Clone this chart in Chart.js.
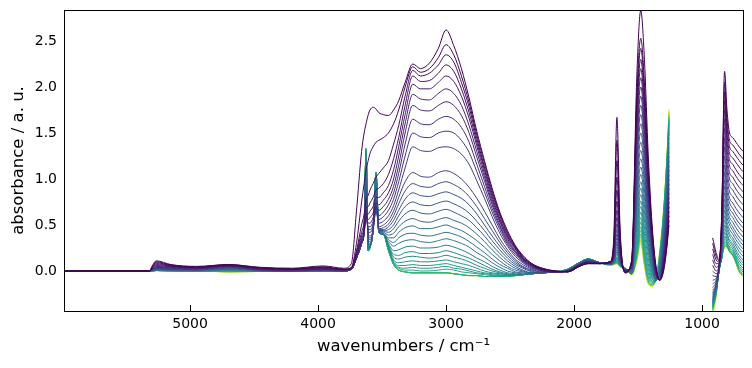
<!DOCTYPE html>
<html>
<head>
<meta charset="utf-8">
<script src="https://cdn.jsdelivr.net/npm/chart.js@4.4.1/dist/chart.umd.min.js"></script>
<style>
    html, body { margin: 0; padding: 0; background: #ffffff; }
</style>
</head>
<body>
<canvas id="spectra" width="752" height="368"></canvas>
<script>
// shared wavenumber axis (cm-1), 1100 marks the gap with no data
const wavenumbers = [5985, 5320, 5290, 5265, 5150, 4950, 4700, 4450, 4200, 3960, 3800,
    3740, 3700, 3660, 3640, 3625, 3608, 3594, 3570, 3547, 3525, 3490, 3450, 3410, 3370, 3320, 3260, 3200, 3130, 3060, 3000,
    2940, 2880, 2820, 2760, 2700, 2640, 2580, 2520, 2460, 2400, 2330, 2250, 2150,
    2050, 1960, 1890, 1800, 1720, 1690, 1665, 1640, 1600, 1550, 1510, 1479, 1450, 1420, 1390, 1360, 1330, 1300, 1275, 1258,
    1100,
    917, 890, 865, 845, 824, 805, 785, 760, 735, 710, 680];

// absorbance of each spectrum, first = earliest (purple), last = latest (yellow)
const spec00 = [0, 0, 0.07, 0.11, 0.07, 0.05, 0.07, 0.04, 0.03, 0.055, 0.03,
    0.08, 0.65, 1.3, 1.5, 1.6, 1.7, 1.75, 1.78, 1.76, 1.72, 1.7, 1.69, 1.75, 1.85, 2.05, 2.25, 2.2, 2.26, 2.42, 2.62,
    2.45, 2.2, 1.88, 1.52, 1.2, 0.9, 0.64, 0.44, 0.28, 0.17, 0.08, 0.03, 0.0,
    -0.01, 0.05, 0.08, 0.08, 0.1, 0.35, 1.67, 0.45, -0.02, 0.12, 2.1, 2.83, 2.3, 1.25, 0.5, 0.05, -0.1, 0.0, 0.25, 0.5,
    null,
    0.36, 0.2, 0.12, 0.7, 2.17, 1.75, 1.5, 1.45, 1.4, 1.35, 1.3];
const spec01 = [0, 0, 0.06, 0.1, 0.065, 0.045, 0.07, 0.035, 0.025, 0.045, 0.02,
    0.04, 0.3, 0.75, 0.95, 1.1, 1.2, 1.28, 1.35, 1.4, 1.42, 1.45, 1.5, 1.6, 1.75, 2.0, 2.22, 2.16, 2.2, 2.32, 2.46,
    2.35, 2.12, 1.83, 1.48, 1.17, 0.87, 0.62, 0.42, 0.27, 0.16, 0.08, 0.03, 0.0,
    -0.01, 0.05, 0.08, 0.08, 0.1, 0.3, 1.42, 0.39, -0.02, 0.11, 1.9, 2.53, 2.05, 1.12, 0.45, 0.04, -0.1, 0.02, 0.28, 0.55,
    null,
    0.3, 0.16, 0.11, 0.66, 2.05, 1.65, 1.42, 1.37, 1.32, 1.27, 1.22];
const spec02 = [0, 0, 0.05, 0.09, 0.06, 0.04, 0.065, 0.03, 0.02, 0.04, 0.02,
    0.03, 0.22, 0.5, 0.62, 0.78, 0.82, 0.88, 0.95, 1.02, 1.06, 1.12, 1.2, 1.38, 1.58, 1.9, 2.18, 2.12, 2.15, 2.24, 2.35,
    2.27, 2.05, 1.78, 1.44, 1.13, 0.84, 0.6, 0.4, 0.26, 0.15, 0.07, 0.02, 0.0,
    -0.01, 0.05, 0.08, 0.08, 0.1, 0.27, 1.2, 0.34, -0.01, 0.1, 1.82, 2.42, 1.95, 1.07, 0.42, 0.03, -0.1, 0.04, 0.31, 0.6,
    null,
    0.24, 0.12, 0.1, 0.63, 1.95, 1.57, 1.35, 1.3, 1.25, 1.2, 1.15];
const spec03 = [0, 0, 0.05, 0.08, 0.055, 0.04, 0.06, 0.03, 0.02, 0.035, 0.015,
    0.03, 0.2, 0.42, 0.52, 0.68, 0.7, 0.74, 0.8, 0.88, 0.9, 0.95, 1.05, 1.22, 1.45, 1.8, 2.12, 2.06, 2.07, 2.15, 2.24,
    2.17, 1.98, 1.72, 1.4, 1.1, 0.81, 0.57, 0.38, 0.25, 0.14, 0.07, 0.02, 0.0,
    -0.01, 0.05, 0.09, 0.08, 0.1, 0.24, 1.02, 0.3, -0.01, 0.09, 1.73, 2.3, 1.86, 1.02, 0.4, 0.02, -0.1, 0.06, 0.34, 0.65,
    null,
    0.18, 0.08, 0.09, 0.6, 1.85, 1.49, 1.28, 1.23, 1.18, 1.13, 1.08];
const spec04 = [0, 0, 0.04, 0.07, 0.05, 0.035, 0.06, 0.025, 0.015, 0.03, 0.015,
    0.03, 0.18, 0.38, 0.47, 0.62, 0.62, 0.65, 0.7, 0.8, 0.8, 0.85, 0.93, 1.1, 1.35, 1.7, 2.03, 1.98, 1.98, 2.05, 2.12,
    2.06, 1.9, 1.66, 1.36, 1.06, 0.78, 0.55, 0.37, 0.24, 0.13, 0.06, 0.02, -0.01,
    0.0, 0.06, 0.09, 0.08, 0.1, 0.22, 0.88, 0.27, -0.01, 0.08, 1.65, 2.2, 1.77, 0.97, 0.37, 0.01, -0.1, 0.08, 0.37, 0.7,
    null,
    0.12, 0.04, 0.09, 0.57, 1.75, 1.41, 1.21, 1.16, 1.1, 1.05, 1.0];
const spec05 = [0, 0, 0.04, 0.06, 0.045, 0.03, 0.055, 0.02, 0.015, 0.025, 0.01,
    0.03, 0.17, 0.35, 0.44, 0.6, 0.56, 0.58, 0.63, 0.74, 0.72, 0.77, 0.85, 1.0, 1.25, 1.6, 1.92, 1.87, 1.86, 1.93, 1.98,
    1.93, 1.8, 1.58, 1.3, 1.02, 0.75, 0.53, 0.35, 0.22, 0.13, 0.06, 0.01, -0.01,
    0.0, 0.06, 0.09, 0.08, 0.09, 0.2, 0.76, 0.24, 0.0, 0.07, 1.57, 2.1, 1.69, 0.92, 0.35, 0.0, -0.1, 0.1, 0.41, 0.75,
    null,
    0.06, 0.0, 0.08, 0.54, 1.65, 1.33, 1.14, 1.09, 1.03, 0.98, 0.93];
const spec06 = [0, 0, 0.03, 0.05, 0.04, 0.03, 0.055, 0.02, 0.01, 0.02, 0.01,
    0.02, 0.16, 0.33, 0.42, 0.6, 0.52, 0.52, 0.58, 0.7, 0.66, 0.7, 0.78, 0.92, 1.15, 1.5, 1.8, 1.75, 1.74, 1.8, 1.84,
    1.8, 1.69, 1.5, 1.24, 0.98, 0.72, 0.5, 0.33, 0.21, 0.12, 0.05, 0.01, -0.01,
    0.0, 0.06, 0.1, 0.085, 0.09, 0.18, 0.66, 0.21, 0.0, 0.06, 1.49, 2.0, 1.6, 0.87, 0.33, -0.01, -0.1, 0.12, 0.45, 0.8,
    null,
    0.0, -0.03, 0.07, 0.5, 1.55, 1.25, 1.07, 1.02, 0.96, 0.91, 0.86];
const spec07 = [0, 0, 0.03, 0.045, 0.035, 0.025, 0.05, 0.015, 0.01, 0.02, 0.01,
    0.02, 0.15, 0.32, 0.41, 0.62, 0.48, 0.48, 0.54, 0.68, 0.6, 0.64, 0.72, 0.85, 1.06, 1.38, 1.65, 1.6, 1.59, 1.65, 1.68,
    1.65, 1.56, 1.4, 1.16, 0.92, 0.68, 0.48, 0.31, 0.2, 0.11, 0.05, 0.01, -0.01,
    0.0, 0.06, 0.1, 0.085, 0.09, 0.17, 0.58, 0.19, 0.0, 0.05, 1.41, 1.9, 1.52, 0.83, 0.31, -0.02, -0.1, 0.14, 0.49, 0.85,
    null,
    -0.05, -0.06, 0.07, 0.47, 1.45, 1.17, 1.0, 0.95, 0.89, 0.84, 0.79];
const spec08 = [0, 0, 0.02, 0.04, 0.03, 0.02, 0.05, 0.015, 0.01, 0.015, 0.01,
    0.02, 0.15, 0.31, 0.4, 0.65, 0.45, 0.45, 0.5, 0.66, 0.56, 0.59, 0.66, 0.78, 0.97, 1.25, 1.5, 1.46, 1.45, 1.5, 1.52,
    1.5, 1.42, 1.29, 1.08, 0.86, 0.64, 0.45, 0.29, 0.18, 0.1, 0.04, 0.0, -0.01,
    0.0, 0.07, 0.1, 0.085, 0.09, 0.16, 0.51, 0.17, 0.0, 0.04, 1.33, 1.8, 1.44, 0.78, 0.29, -0.03, -0.09, 0.16, 0.53, 0.9,
    null,
    -0.1, -0.08, 0.06, 0.44, 1.35, 1.09, 0.93, 0.88, 0.82, 0.77, 0.72];
const spec09 = [0, 0, 0.02, 0.035, 0.025, 0.02, 0.045, 0.01, 0.005, 0.015, 0.005,
    0.02, 0.14, 0.3, 0.4, 0.68, 0.42, 0.42, 0.48, 0.64, 0.52, 0.54, 0.6, 0.71, 0.88, 1.12, 1.35, 1.31, 1.3, 1.34, 1.35,
    1.33, 1.27, 1.16, 0.98, 0.79, 0.59, 0.41, 0.27, 0.16, 0.09, 0.03, 0.0, -0.01,
    0.0, 0.07, 0.1, 0.085, 0.09, 0.15, 0.45, 0.16, 0.01, 0.04, 1.25, 1.7, 1.36, 0.74, 0.27, -0.04, -0.09, 0.18, 0.57, 0.95,
    null,
    -0.14, -0.1, 0.06, 0.41, 1.25, 1.01, 0.86, 0.81, 0.75, 0.7, 0.65];
const spec10 = [0, 0, 0.015, 0.03, 0.02, 0.015, 0.04, 0.01, 0, 0.01, 0,
    0.02, 0.14, 0.3, 0.42, 0.75, 0.4, 0.38, 0.45, 0.7, 0.48, 0.5, 0.55, 0.65, 0.8, 0.97, 1.07, 1.03, 1.02, 1.07, 1.09,
    1.06, 1.0, 0.91, 0.79, 0.65, 0.5, 0.35, 0.23, 0.13, 0.07, 0.02, -0.01, -0.01,
    0.0, 0.07, 0.11, 0.09, 0.085, 0.14, 0.4, 0.14, 0.01, 0.03, 1.17, 1.6, 1.28, 0.7, 0.25, -0.05, -0.08, 0.2, 0.61, 1.0,
    null,
    -0.18, -0.12, 0.05, 0.38, 1.15, 0.93, 0.79, 0.74, 0.68, 0.63, 0.58];
const spec11 = [0, 0, 0.015, 0.03, 0.02, 0.015, 0.04, 0.01, 0, 0.01, 0,
    0.02, 0.14, 0.3, 0.42, 0.8, 0.38, 0.36, 0.44, 0.74, 0.46, 0.47, 0.51, 0.6, 0.73, 0.87, 0.95, 0.92, 0.91, 0.95, 0.97,
    0.94, 0.89, 0.81, 0.7, 0.57, 0.44, 0.31, 0.2, 0.11, 0.05, 0.01, -0.01, -0.01,
    0.0, 0.07, 0.11, 0.09, 0.085, 0.13, 0.36, 0.13, 0.01, 0.02, 1.09, 1.5, 1.2, 0.65, 0.23, -0.05, -0.07, 0.23, 0.65, 1.05,
    null,
    -0.21, -0.14, 0.05, 0.35, 1.07, 0.86, 0.74, 0.68, 0.62, 0.57, 0.52];
const spec12 = [0, 0, 0.015, 0.025, 0.02, 0.015, 0.035, 0.01, 0, 0.01, 0,
    0.02, 0.14, 0.3, 0.43, 0.85, 0.36, 0.34, 0.44, 0.78, 0.45, 0.45, 0.48, 0.55, 0.66, 0.78, 0.85, 0.82, 0.81, 0.84, 0.86,
    0.83, 0.79, 0.72, 0.62, 0.5, 0.38, 0.27, 0.17, 0.09, 0.04, 0.0, -0.02, -0.01,
    0.0, 0.075, 0.11, 0.09, 0.08, 0.12, 0.32, 0.12, 0.01, 0.02, 1.01, 1.4, 1.12, 0.6, 0.2, -0.06, -0.06, 0.26, 0.69, 1.1,
    null,
    -0.24, -0.15, 0.04, 0.33, 0.99, 0.8, 0.68, 0.63, 0.57, 0.52, 0.47];
const spec13 = [0, 0, 0.01, 0.025, 0.015, 0.01, 0.035, 0.01, 0, 0.01, 0,
    0.02, 0.14, 0.3, 0.44, 0.9, 0.34, 0.32, 0.44, 0.82, 0.44, 0.44, 0.45, 0.5, 0.6, 0.7, 0.75, 0.72, 0.71, 0.74, 0.76,
    0.73, 0.69, 0.63, 0.54, 0.44, 0.33, 0.23, 0.14, 0.07, 0.03, -0.01, -0.02, -0.01,
    0.0, 0.075, 0.115, 0.09, 0.08, 0.12, 0.29, 0.11, 0.015, 0.01, 0.93, 1.31, 1.04, 0.55, 0.17, -0.07, -0.05, 0.29, 0.73, 1.15,
    null,
    -0.26, -0.16, 0.04, 0.31, 0.92, 0.74, 0.63, 0.58, 0.52, 0.47, 0.42];
const spec14 = [0, 0, 0.01, 0.02, 0.015, 0.01, 0.03, 0.005, 0, 0.005, 0,
    0.02, 0.14, 0.3, 0.45, 0.95, 0.32, 0.3, 0.44, 0.86, 0.43, 0.43, 0.42, 0.46, 0.54, 0.62, 0.66, 0.63, 0.62, 0.65, 0.67,
    0.64, 0.6, 0.55, 0.47, 0.38, 0.28, 0.19, 0.11, 0.05, 0.01, -0.02, -0.02, -0.01,
    0.005, 0.08, 0.115, 0.09, 0.08, 0.11, 0.26, 0.1, 0.015, 0.0, 0.86, 1.22, 0.96, 0.5, 0.14, -0.08, -0.03, 0.32, 0.77, 1.2,
    null,
    -0.28, -0.17, 0.03, 0.29, 0.85, 0.68, 0.58, 0.53, 0.47, 0.42, 0.37];
const spec15 = [0, 0, 0.01, 0.02, 0.015, 0.01, 0.03, 0.005, 0, 0.005, 0,
    0.02, 0.14, 0.3, 0.46, 1.0, 0.3, 0.29, 0.44, 0.9, 0.42, 0.42, 0.39, 0.41, 0.48, 0.54, 0.57, 0.54, 0.53, 0.56, 0.58,
    0.55, 0.52, 0.47, 0.4, 0.32, 0.23, 0.15, 0.08, 0.03, 0.0, -0.02, -0.02, -0.01,
    0.005, 0.08, 0.12, 0.09, 0.08, 0.11, 0.23, 0.09, 0.02, 0.0, 0.79, 1.13, 0.88, 0.45, 0.11, -0.09, -0.02, 0.35, 0.81, 1.25,
    null,
    -0.3, -0.18, 0.03, 0.27, 0.78, 0.63, 0.54, 0.48, 0.42, 0.37, 0.32];
const spec16 = [0, 0, 0.01, 0.02, 0.01, 0.01, 0.025, 0.005, 0, 0.005, 0,
    0.02, 0.14, 0.3, 0.46, 1.05, 0.28, 0.28, 0.45, 0.93, 0.42, 0.41, 0.36, 0.36, 0.42, 0.47, 0.49, 0.46, 0.46, 0.48, 0.5,
    0.47, 0.44, 0.39, 0.33, 0.26, 0.18, 0.11, 0.05, 0.01, -0.01, -0.02, -0.02, -0.01,
    0.005, 0.08, 0.12, 0.09, 0.075, 0.1, 0.21, 0.09, 0.02, -0.01, 0.72, 1.05, 0.8, 0.4, 0.08, -0.09, 0.0, 0.38, 0.85, 1.3,
    null,
    -0.31, -0.19, 0.03, 0.25, 0.72, 0.58, 0.5, 0.44, 0.38, 0.33, 0.28];
const spec17 = [0, 0, 0.01, 0.015, 0.01, 0.005, 0.02, 0.005, 0, 0.005, 0,
    0.02, 0.14, 0.3, 0.47, 1.1, 0.27, 0.27, 0.45, 0.96, 0.42, 0.4, 0.34, 0.31, 0.36, 0.4, 0.41, 0.39, 0.38, 0.4, 0.42,
    0.4, 0.37, 0.32, 0.26, 0.2, 0.13, 0.07, 0.03, -0.01, -0.02, -0.03, -0.02, -0.01,
    0.01, 0.085, 0.12, 0.09, 0.075, 0.1, 0.19, 0.08, 0.02, -0.01, 0.65, 0.97, 0.72, 0.35, 0.05, -0.1, 0.02, 0.41, 0.89, 1.35,
    null,
    -0.32, -0.2, 0.02, 0.23, 0.66, 0.53, 0.45, 0.4, 0.34, 0.29, 0.24];
const spec18 = [0, 0, 0.005, 0.015, 0.01, 0.005, 0.02, 0, 0, 0, 0,
    0.02, 0.14, 0.3, 0.47, 1.15, 0.26, 0.27, 0.45, 0.99, 0.42, 0.4, 0.32, 0.27, 0.3, 0.33, 0.34, 0.32, 0.31, 0.33, 0.35,
    0.33, 0.3, 0.26, 0.2, 0.15, 0.09, 0.04, 0.0, -0.02, -0.03, -0.03, -0.02, -0.01,
    0.01, 0.085, 0.125, 0.09, 0.075, 0.09, 0.17, 0.08, 0.025, -0.02, 0.58, 0.9, 0.64, 0.3, 0.02, -0.1, 0.04, 0.44, 0.93, 1.4,
    null,
    -0.33, -0.2, 0.02, 0.21, 0.6, 0.49, 0.41, 0.36, 0.3, 0.25, 0.2];
const spec19 = [0, 0, 0.005, 0.01, 0.005, 0.005, 0.015, 0, 0, 0, 0,
    0.02, 0.14, 0.3, 0.48, 1.2, 0.25, 0.26, 0.45, 1.01, 0.42, 0.4, 0.3, 0.22, 0.23, 0.26, 0.27, 0.25, 0.25, 0.26, 0.28,
    0.26, 0.23, 0.19, 0.14, 0.1, 0.05, 0.01, -0.02, -0.03, -0.04, -0.03, -0.02, -0.01,
    0.01, 0.085, 0.125, 0.09, 0.07, 0.09, 0.15, 0.07, 0.025, -0.02, 0.51, 0.83, 0.56, 0.25, -0.01, -0.1, 0.06, 0.47, 0.97, 1.45,
    null,
    -0.34, -0.21, 0.02, 0.2, 0.55, 0.45, 0.38, 0.33, 0.27, 0.21, 0.16];
const spec20 = [0, 0, 0.005, 0.01, 0.005, 0, 0.01, 0, -0.005, 0, 0,
    0.02, 0.14, 0.3, 0.48, 1.25, 0.24, 0.26, 0.45, 1.03, 0.42, 0.4, 0.28, 0.18, 0.17, 0.2, 0.21, 0.19, 0.19, 0.2, 0.22,
    0.2, 0.17, 0.14, 0.1, 0.06, 0.02, -0.01, -0.03, -0.04, -0.04, -0.03, -0.02, -0.01,
    0.01, 0.09, 0.13, 0.09, 0.07, 0.09, 0.14, 0.07, 0.03, -0.02, 0.45, 0.76, 0.48, 0.2, -0.04, -0.11, 0.08, 0.5, 1.01, 1.5,
    null,
    -0.35, -0.21, 0.02, 0.18, 0.5, 0.41, 0.34, 0.3, 0.23, 0.17, 0.12];
const spec21 = [0, 0, 0.005, 0.01, 0.005, 0, 0.01, 0, -0.005, 0, 0,
    0.02, 0.14, 0.3, 0.48, 1.28, 0.23, 0.26, 0.45, 1.05, 0.42, 0.4, 0.27, 0.15, 0.13, 0.15, 0.16, 0.15, 0.14, 0.15, 0.17,
    0.15, 0.13, 0.1, 0.06, 0.03, 0.0, -0.02, -0.04, -0.04, -0.04, -0.03, -0.02, -0.01,
    0.01, 0.09, 0.13, 0.09, 0.07, 0.08, 0.13, 0.07, 0.03, -0.03, 0.39, 0.7, 0.41, 0.14, -0.07, -0.11, 0.1, 0.53, 1.05, 1.53,
    null,
    -0.36, -0.22, 0.02, 0.17, 0.46, 0.38, 0.32, 0.27, 0.2, 0.14, 0.09];
const spec22 = [0, 0, 0.005, 0.01, 0.005, 0, 0.01, 0, -0.005, 0, 0,
    0.02, 0.14, 0.3, 0.48, 1.3, 0.22, 0.26, 0.45, 1.06, 0.42, 0.4, 0.26, 0.12, 0.09, 0.1, 0.11, 0.1, 0.1, 0.11, 0.12,
    0.1, 0.08, 0.06, 0.03, 0.0, -0.02, -0.03, -0.04, -0.05, -0.04, -0.03, -0.02, -0.01,
    0.015, 0.09, 0.13, 0.09, 0.07, 0.08, 0.12, 0.06, 0.03, -0.03, 0.33, 0.64, 0.34, 0.08, -0.09, -0.11, 0.12, 0.56, 1.08, 1.56,
    null,
    -0.37, -0.22, 0.02, 0.16, 0.42, 0.35, 0.29, 0.24, 0.17, 0.11, 0.06];
const spec23 = [0, 0, 0.005, 0.01, 0.005, 0, 0.01, 0, -0.005, 0, 0,
    0.02, 0.14, 0.3, 0.48, 1.31, 0.22, 0.26, 0.45, 1.07, 0.42, 0.4, 0.25, 0.1, 0.06, 0.06, 0.07, 0.06, 0.06, 0.07, 0.08,
    0.06, 0.04, 0.02, 0.0, -0.02, -0.03, -0.04, -0.05, -0.05, -0.04, -0.03, -0.02, -0.01,
    0.015, 0.09, 0.13, 0.09, 0.07, 0.08, 0.11, 0.06, 0.03, -0.03, 0.28, 0.58, 0.28, 0.03, -0.11, -0.11, 0.14, 0.58, 1.11, 1.6,
    null,
    -0.38, -0.23, 0.02, 0.15, 0.38, 0.32, 0.26, 0.22, 0.15, 0.08, 0.03];
const spec24 = [0, 0, 0, 0.005, 0, 0, 0, -0.005, -0.005, 0, 0,
    0.02, 0.14, 0.3, 0.48, 1.32, 0.22, 0.26, 0.45, 1.07, 0.42, 0.4, 0.24, 0.09, 0.04, 0.03, 0.04, 0.03, 0.03, 0.04, 0.05,
    0.03, 0.02, 0.0, -0.02, -0.03, -0.04, -0.05, -0.05, -0.05, -0.04, -0.03, -0.02, -0.01,
    0.02, 0.09, 0.13, 0.09, 0.07, 0.08, 0.1, 0.06, 0.03, -0.03, 0.24, 0.53, 0.23, -0.02, -0.12, -0.1, 0.16, 0.6, 1.14, 1.62,
    null,
    -0.39, -0.23, 0.03, 0.14, 0.35, 0.3, 0.24, 0.2, 0.13, 0.05, 0.01];
const spec25 = [0, 0, 0, 0.005, 0, 0, 0, -0.005, -0.005, 0, 0,
    0.02, 0.14, 0.3, 0.48, 1.32, 0.22, 0.26, 0.45, 1.07, 0.42, 0.4, 0.23, 0.08, 0.03, 0.01, 0.01, 0.0, 0.0, 0.01, 0.02,
    0.01, -0.01, -0.02, -0.03, -0.04, -0.05, -0.05, -0.05, -0.05, -0.04, -0.03, -0.02, -0.01,
    0.02, 0.09, 0.13, 0.09, 0.07, 0.08, 0.1, 0.06, 0.03, -0.03, 0.2, 0.48, 0.18, -0.06, -0.13, -0.1, 0.17, 0.62, 1.16, 1.64,
    null,
    -0.4, -0.24, 0.03, 0.14, 0.32, 0.28, 0.22, 0.18, 0.11, 0.03, -0.01];
const spec26 = [0, 0, 0, 0.005, 0, 0, 0, -0.005, -0.005, 0, 0,
    0.02, 0.14, 0.3, 0.48, 1.33, 0.22, 0.26, 0.45, 1.07, 0.42, 0.4, 0.22, 0.07, 0.01, -0.01, -0.02, -0.02, -0.02, -0.02, -0.02,
    -0.03, -0.04, -0.05, -0.05, -0.06, -0.06, -0.06, -0.06, -0.05, -0.04, -0.03, -0.02, -0.01,
    0.02, 0.09, 0.13, 0.09, 0.07, 0.08, 0.09, 0.05, 0.03, -0.03, 0.17, 0.44, 0.14, -0.09, -0.14, -0.09, 0.18, 0.63, 1.18, 1.66,
    null,
    -0.41, -0.24, 0.03, 0.14, 0.3, 0.27, 0.21, 0.17, 0.1, 0.01, -0.03];
const spec27 = [0, 0, 0, 0.005, 0, 0, -0.005, -0.005, -0.005, 0, 0,
    0.02, 0.14, 0.3, 0.48, 1.33, 0.22, 0.26, 0.45, 1.07, 0.42, 0.4, 0.22, 0.07, 0.01, -0.01, -0.02, -0.02, -0.02, -0.02, -0.02,
    -0.03, -0.04, -0.05, -0.05, -0.06, -0.06, -0.06, -0.06, -0.05, -0.04, -0.03, -0.02, -0.01,
    0.02, 0.09, 0.13, 0.09, 0.07, 0.08, 0.09, 0.05, 0.03, -0.03, 0.15, 0.4, 0.11, -0.11, -0.15, -0.09, 0.19, 0.64, 1.2, 1.68,
    null,
    -0.42, -0.25, 0.04, 0.15, 0.28, 0.26, 0.21, 0.17, 0.1, 0.0, -0.05];
const spec28 = [0, 0, 0, 0.005, 0, 0, -0.01, -0.005, -0.005, 0, 0,
    0.02, 0.14, 0.3, 0.48, 1.33, 0.22, 0.26, 0.45, 1.07, 0.42, 0.4, 0.22, 0.07, 0.01, -0.01, -0.02, -0.02, -0.02, -0.02, -0.02,
    -0.03, -0.04, -0.05, -0.05, -0.06, -0.06, -0.06, -0.06, -0.05, -0.04, -0.03, -0.02, -0.01,
    0.02, 0.09, 0.13, 0.09, 0.07, 0.08, 0.09, 0.05, 0.03, -0.03, 0.13, 0.37, 0.09, -0.12, -0.15, -0.08, 0.2, 0.65, 1.21, 1.7,
    null,
    -0.43, -0.25, 0.04, 0.16, 0.27, 0.26, 0.21, 0.17, 0.09, 0.0, -0.05];
const spec29 = [0, 0, 0, 0.005, 0, 0, -0.01, -0.005, -0.005, 0, 0,
    0.02, 0.14, 0.3, 0.48, 1.33, 0.22, 0.26, 0.45, 1.07, 0.42, 0.4, 0.22, 0.07, 0.01, -0.01, -0.02, -0.02, -0.02, -0.02, -0.02,
    -0.03, -0.04, -0.05, -0.05, -0.06, -0.06, -0.06, -0.06, -0.05, -0.04, -0.03, -0.02, -0.01,
    0.02, 0.09, 0.13, 0.09, 0.06, 0.07, 0.08, 0.05, 0.02, -0.04, 0.12, 0.34, 0.07, -0.13, -0.16, -0.08, 0.21, 0.66, 1.22, 1.72,
    null,
    -0.44, -0.26, 0.05, 0.17, 0.26, 0.27, 0.22, 0.17, 0.09, -0.01, -0.05];
const spec30 = [0, 0, 0, 0.005, 0, 0, -0.01, -0.005, -0.005, 0, 0,
    0.02, 0.14, 0.3, 0.48, 1.33, 0.22, 0.26, 0.45, 1.07, 0.42, 0.4, 0.22, 0.07, 0.01, -0.01, -0.02, -0.02, -0.02, -0.02, -0.02,
    -0.03, -0.04, -0.05, -0.05, -0.06, -0.06, -0.06, -0.06, -0.05, -0.04, -0.03, -0.02, -0.01,
    0.02, 0.09, 0.13, 0.09, 0.06, 0.07, 0.08, 0.05, 0.02, -0.04, 0.11, 0.32, 0.06, -0.14, -0.16, -0.07, 0.22, 0.67, 1.23, 1.74,
    null,
    -0.46, -0.27, 0.05, 0.18, 0.25, 0.28, 0.23, 0.17, 0.08, -0.01, -0.06];
const spec31 = [0, 0, 0, 0.005, 0, 0, -0.01, -0.005, -0.005, 0, 0,
    0.02, 0.14, 0.3, 0.48, 1.33, 0.22, 0.26, 0.45, 1.07, 0.42, 0.4, 0.22, 0.07, 0.01, -0.01, -0.02, -0.02, -0.02, -0.02, -0.02,
    -0.03, -0.04, -0.05, -0.05, -0.06, -0.06, -0.06, -0.06, -0.05, -0.04, -0.03, -0.02, -0.01,
    0.02, 0.09, 0.13, 0.09, 0.06, 0.07, 0.08, 0.04, 0.02, -0.04, 0.1, 0.3, 0.05, -0.14, -0.17, -0.07, 0.23, 0.68, 1.24, 1.76,
    null,
    -0.48, -0.28, 0.06, 0.19, 0.25, 0.29, 0.24, 0.18, 0.08, -0.01, -0.06];

const xTicks = [5000, 4000, 3000, 2000, 1000];
const yTicks = [0, 0.5, 1, 1.5, 2, 2.5];

const spectra = [spec00, spec01, spec02, spec03, spec04, spec05, spec06, spec07, spec08, spec09,
    spec10, spec11, spec12, spec13, spec14, spec15, spec16, spec17, spec18, spec19,
    spec20, spec21, spec22, spec23, spec24, spec25, spec26, spec27, spec28, spec29, spec30, spec31];

// viridis colour map, sampled every 0.1
const viridisStops = [[68, 1, 84], [72, 36, 117], [65, 68, 135], [53, 95, 141], [42, 120, 142], [33, 145, 140],
    [34, 168, 132], [68, 191, 112], [122, 209, 81], [189, 223, 38], [253, 231, 37]];

function viridis(t) {
    let p = Math.min(Math.max(t, 0), 1) * 10;
    let i = Math.min(Math.floor(p), 9);
    let f = p - i;
    let a = viridisStops[i], b = viridisStops[i + 1];
    let c = a.map((v, k) => Math.round(v + (b[k] - v) * f));
    return 'rgb(' + c.join(',') + ')';
}

// most spectra sit in the purple..teal part of the map, the last few run on to yellow
function colourPosition(i) {
    let last = spectra.length - 1;
    if (i <= 26) return 0.62 * Math.pow(i / 26, 1.2);
    return 0.62 + 0.38 * (i - 26) / (last - 26);
}

let datasets = spectra.map((s, i) => ({
    data: wavenumbers.map((w, k) => ({x: w, y: s[k]})),
    borderColor: viridis(colourPosition(i)),
    borderWidth: 1,
    pointRadius: 0,
    fill: false,
    spanGaps: false,
    cubicInterpolationMode: 'monotone'
}));

const frame = {
    id: 'frame',
    afterDraw(chart) {
        let c = chart.ctx, a = chart.chartArea, x = chart.scales.x;
        c.save();
        c.strokeStyle = '#000000';
        c.lineWidth = 1;
        c.strokeRect(a.left + 0.5, a.top + 0.5, a.right - a.left, a.bottom - a.top);
        c.beginPath();
        xTicks.forEach(v => {
            let px = Math.round(x.getPixelForValue(v)) + 0.5;
            c.moveTo(px, a.bottom);
            c.lineTo(px, a.bottom - 6);
        });
        c.stroke();
        c.restore();
    }
};

let spectraCtx = document.getElementById('spectra').getContext('2d');

new Chart(spectraCtx, {
    type: 'line',
    data: {datasets: datasets},
    plugins: [frame],
    options: {
        responsive: false,
        animation: false,
        layout: {padding: {top: 10, right: 9, left: 0, bottom: 0}},
        plugins: {legend: {display: false}, tooltip: {enabled: false}},
        scales: {
            x: {
                type: 'linear',
                reverse: true,
                min: 680,
                max: 5985,
                afterBuildTicks: s => { s.ticks = xTicks.map(v => ({value: v})); },
                afterFit: s => { s.height = 57; s.paddingLeft = 0; s.paddingRight = 0; },
                grid: {display: false, drawTicks: false},
                border: {display: false},
                ticks: {
                    autoSkip: false,
                    maxRotation: 0,
                    padding: 5,
                    color: '#000000',
                    font: {family: 'DejaVu Sans', size: 14},
                    callback: v => String(v)
                },
                title: {
                    display: true,
                    text: 'wavenumbers / cm⁻¹',
                    color: '#000000',
                    font: {family: 'DejaVu Sans', size: 16.5},
                    padding: {top: 0, bottom: 11}
                }
            },
            y: {
                min: -0.435,
                max: 2.837,
                afterBuildTicks: s => { s.ticks = yTicks.map(v => ({value: v})); },
                afterFit: s => { s.width = 64; s.paddingTop = 0; s.paddingBottom = 0; },
                grid: {display: false, drawTicks: false},
                border: {display: false},
                ticks: {
                    padding: 7,
                    color: '#000000',
                    font: {family: 'DejaVu Sans', size: 14},
                    callback: v => Number(v).toFixed(1)
                },
                title: {
                    display: true,
                    text: 'absorbance / a. u.',
                    color: '#000000',
                    font: {family: 'DejaVu Sans', size: 16.5},
                    padding: {top: 9, bottom: 0}
                }
            }
        }
    }
});
</script>
</body>
</html>
